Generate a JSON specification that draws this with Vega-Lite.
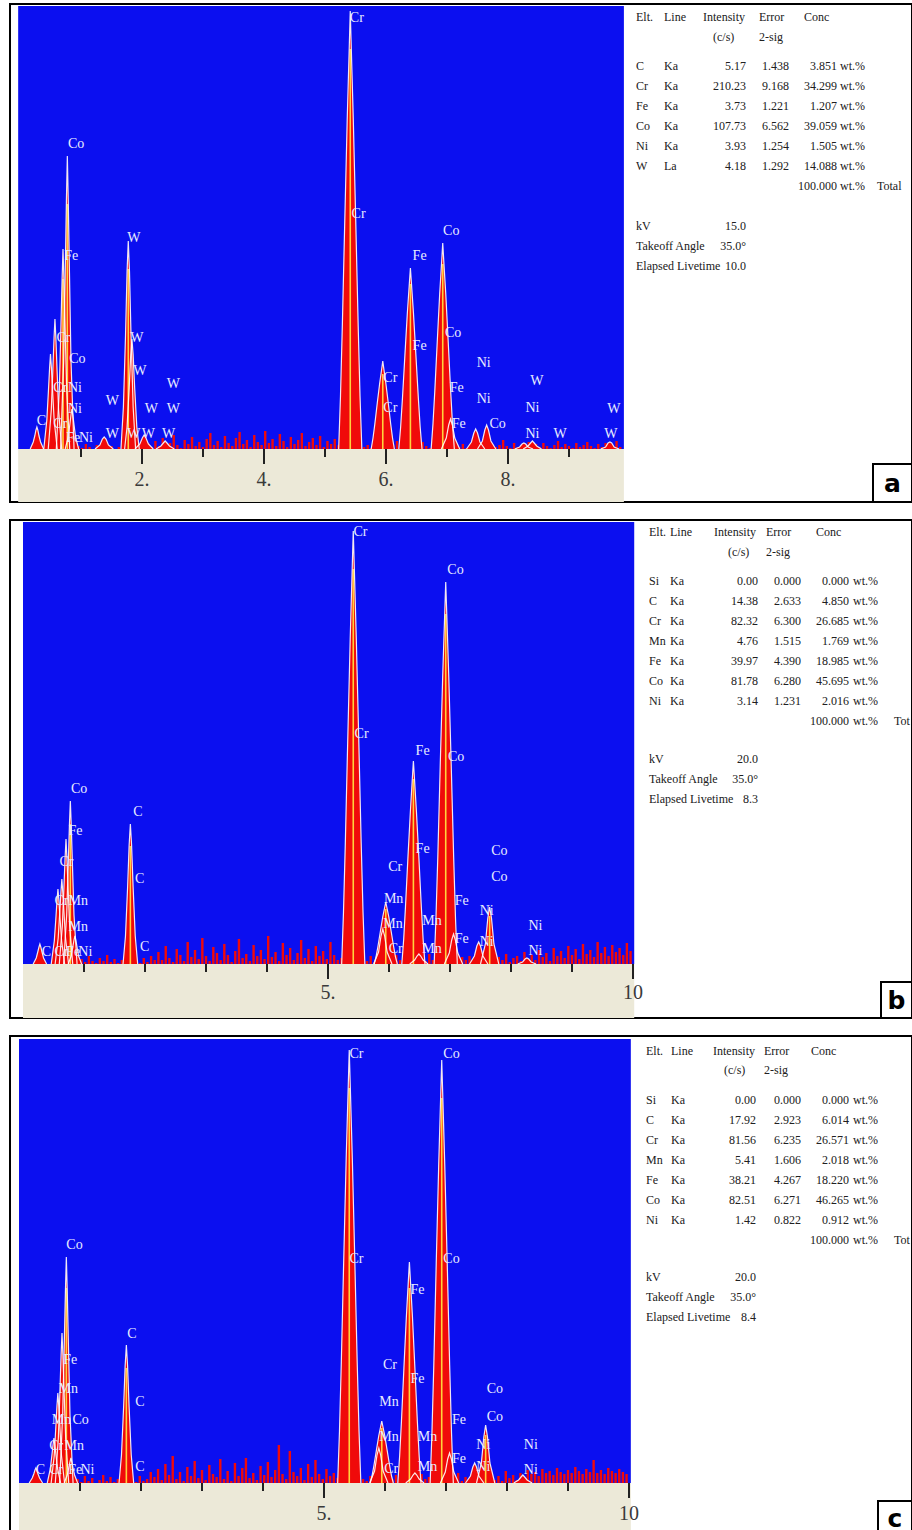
{
"$schema":"https://vega.github.io/schema/vega-lite/v6.json",
"padding":{"left":9,"top":3,"right":0,"bottom":0},
"background":"white",
"spacing":15,
"config":{"view":{"stroke":"black","strokeWidth":2,"fill":"white"}},
"datasets":{
"pa":[
{"k":"C","e":0.167,"c":0},{"k":"C","e":0.217,"c":7},{"k":"C","e":0.242,"c":13},{"k":"C","e":0.262,"c":19},{"k":"C","e":0.277,"c":22},{"k":"C","e":0.292,"c":19},{"k":"C","e":0.312,"c":13},{"k":"C","e":0.337,"c":7},{"k":"C","e":0.387,"c":0},
{"k":"CrL","e":0.39,"c":0},{"k":"CrL","e":0.44,"c":29},{"k":"CrL","e":0.465,"c":57},{"k":"CrL","e":0.485,"c":81},{"k":"CrL","e":0.5,"c":95},{"k":"CrL","e":0.515,"c":81},{"k":"CrL","e":0.535,"c":57},{"k":"CrL","e":0.56,"c":29},{"k":"CrL","e":0.61,"c":0},
{"k":"CrLa","e":0.463,"c":0},{"k":"CrLa","e":0.513,"c":39},{"k":"CrLa","e":0.538,"c":78},{"k":"CrLa","e":0.558,"c":111},{"k":"CrLa","e":0.573,"c":130},{"k":"CrLa","e":0.588,"c":111},{"k":"CrLa","e":0.608,"c":78},{"k":"CrLa","e":0.633,"c":39},{"k":"CrLa","e":0.683,"c":0},
{"k":"FeLa","e":0.595,"c":0},{"k":"FeLa","e":0.645,"c":60},{"k":"FeLa","e":0.67,"c":120},{"k":"FeLa","e":0.69,"c":170},{"k":"FeLa","e":0.705,"c":200},{"k":"FeLa","e":0.72,"c":170},{"k":"FeLa","e":0.74,"c":120},{"k":"FeLa","e":0.765,"c":60},{"k":"FeLa","e":0.815,"c":0},
{"k":"CoLa","e":0.666,"c":0},{"k":"CoLa","e":0.716,"c":88},{"k":"CoLa","e":0.741,"c":176},{"k":"CoLa","e":0.761,"c":249},{"k":"CoLa","e":0.776,"c":293},{"k":"CoLa","e":0.791,"c":249},{"k":"CoLa","e":0.811,"c":176},{"k":"CoLa","e":0.836,"c":88},{"k":"CoLa","e":0.886,"c":0},
{"k":"NiLa","e":0.741,"c":0},{"k":"NiLa","e":0.791,"c":12},{"k":"NiLa","e":0.816,"c":24},{"k":"NiLa","e":0.836,"c":34},{"k":"NiLa","e":0.851,"c":40},{"k":"NiLa","e":0.866,"c":34},{"k":"NiLa","e":0.886,"c":24},{"k":"NiLa","e":0.911,"c":12},{"k":"NiLa","e":0.961,"c":0},
{"k":"WMz","e":1.23,"c":0},{"k":"WMz","e":1.31,"c":4},{"k":"WMz","e":1.35,"c":10},{"k":"WMz","e":1.38,"c":12},{"k":"WMz","e":1.41,"c":10},{"k":"WMz","e":1.45,"c":4},{"k":"WMz","e":1.53,"c":0},
{"k":"WMa","e":1.655,"c":0},{"k":"WMa","e":1.695,"c":42},{"k":"WMa","e":1.73,"c":114},{"k":"WMa","e":1.755,"c":177},{"k":"WMa","e":1.775,"c":208},{"k":"WMa","e":1.795,"c":177},{"k":"WMa","e":1.82,"c":114},{"k":"WMa","e":1.855,"c":42},{"k":"WMa","e":1.895,"c":0},
{"k":"WMb","e":1.715,"c":0},{"k":"WMb","e":1.755,"c":22},{"k":"WMb","e":1.79,"c":61},{"k":"WMb","e":1.815,"c":94},{"k":"WMb","e":1.835,"c":110},{"k":"WMb","e":1.855,"c":94},{"k":"WMb","e":1.88,"c":61},{"k":"WMb","e":1.915,"c":22},{"k":"WMb","e":1.955,"c":0},
{"k":"WMg","e":1.885,"c":0},{"k":"WMg","e":1.965,"c":5},{"k":"WMg","e":2.005,"c":11},{"k":"WMg","e":2.035,"c":14},{"k":"WMg","e":2.065,"c":11},{"k":"WMg","e":2.105,"c":5},{"k":"WMg","e":2.185,"c":0},
{"k":"W2","e":2.23,"c":0},{"k":"W2","e":2.31,"c":3},{"k":"W2","e":2.35,"c":6},{"k":"W2","e":2.38,"c":8},{"k":"W2","e":2.41,"c":6},{"k":"W2","e":2.45,"c":3},{"k":"W2","e":2.53,"c":0},
{"k":"CrKa","e":5.224,"c":0},{"k":"CrKa","e":5.254,"c":53},{"k":"CrKa","e":5.284,"c":123},{"k":"CrKa","e":5.324,"c":228},{"k":"CrKa","e":5.364,"c":329},{"k":"CrKa","e":5.394,"c":394},{"k":"CrKa","e":5.414,"c":438},{"k":"CrKa","e":5.434,"c":394},{"k":"CrKa","e":5.464,"c":329},{"k":"CrKa","e":5.504,"c":228},{"k":"CrKa","e":5.544,"c":123},{"k":"CrKa","e":5.574,"c":53},{"k":"CrKa","e":5.604,"c":0},
{"k":"CrKb","e":5.757,"c":0},{"k":"CrKb","e":5.787,"c":11},{"k":"CrKb","e":5.817,"c":25},{"k":"CrKb","e":5.857,"c":46},{"k":"CrKb","e":5.897,"c":66},{"k":"CrKb","e":5.927,"c":79},{"k":"CrKb","e":5.947,"c":88},{"k":"CrKb","e":5.967,"c":79},{"k":"CrKb","e":5.997,"c":66},{"k":"CrKb","e":6.037,"c":46},{"k":"CrKb","e":6.077,"c":25},{"k":"CrKb","e":6.107,"c":11},{"k":"CrKb","e":6.137,"c":0},
{"k":"FeKa","e":6.21,"c":0},{"k":"FeKa","e":6.24,"c":22},{"k":"FeKa","e":6.27,"c":51},{"k":"FeKa","e":6.31,"c":94},{"k":"FeKa","e":6.35,"c":136},{"k":"FeKa","e":6.38,"c":163},{"k":"FeKa","e":6.4,"c":181},{"k":"FeKa","e":6.42,"c":163},{"k":"FeKa","e":6.45,"c":136},{"k":"FeKa","e":6.49,"c":94},{"k":"FeKa","e":6.53,"c":51},{"k":"FeKa","e":6.56,"c":22},{"k":"FeKa","e":6.59,"c":0},
{"k":"CoKa","e":6.74,"c":0},{"k":"CoKa","e":6.77,"c":25},{"k":"CoKa","e":6.8,"c":58},{"k":"CoKa","e":6.84,"c":107},{"k":"CoKa","e":6.88,"c":155},{"k":"CoKa","e":6.91,"c":185},{"k":"CoKa","e":6.93,"c":206},{"k":"CoKa","e":6.95,"c":185},{"k":"CoKa","e":6.98,"c":155},{"k":"CoKa","e":7.02,"c":107},{"k":"CoKa","e":7.06,"c":58},{"k":"CoKa","e":7.09,"c":25},{"k":"CoKa","e":7.12,"c":0},
{"k":"FeKb","e":6.908,"c":0},{"k":"FeKb","e":6.988,"c":11},{"k":"FeKb","e":7.028,"c":24},{"k":"FeKb","e":7.058,"c":30},{"k":"FeKb","e":7.088,"c":24},{"k":"FeKb","e":7.128,"c":11},{"k":"FeKb","e":7.208,"c":0},
{"k":"NiKa","e":7.32,"c":0},{"k":"NiKa","e":7.4,"c":7},{"k":"NiKa","e":7.44,"c":16},{"k":"NiKa","e":7.47,"c":20},{"k":"NiKa","e":7.5,"c":16},{"k":"NiKa","e":7.54,"c":7},{"k":"NiKa","e":7.62,"c":0},
{"k":"CoKb","e":7.5,"c":0},{"k":"CoKb","e":7.58,"c":8},{"k":"CoKb","e":7.62,"c":19},{"k":"CoKb","e":7.65,"c":24},{"k":"CoKb","e":7.68,"c":19},{"k":"CoKb","e":7.72,"c":8},{"k":"CoKb","e":7.8,"c":0},
{"k":"NiKb","e":8.11,"c":0},{"k":"NiKb","e":8.19,"c":2},{"k":"NiKb","e":8.23,"c":5},{"k":"NiKb","e":8.26,"c":6},{"k":"NiKb","e":8.29,"c":5},{"k":"NiKb","e":8.33,"c":2},{"k":"NiKb","e":8.41,"c":0},
{"k":"WLa","e":8.25,"c":0},{"k":"WLa","e":8.33,"c":3},{"k":"WLa","e":8.37,"c":6},{"k":"WLa","e":8.4,"c":8},{"k":"WLa","e":8.43,"c":6},{"k":"WLa","e":8.47,"c":3},{"k":"WLa","e":8.55,"c":0},
{"k":"WLb","e":9.52,"c":0},{"k":"WLb","e":9.6,"c":2},{"k":"WLb","e":9.64,"c":6},{"k":"WLb","e":9.67,"c":7},{"k":"WLb","e":9.7,"c":6},{"k":"WLb","e":9.74,"c":2},{"k":"WLb","e":9.82,"c":0}
],
"pb":[
{"k":"C","e":0.167,"c":0},{"k":"C","e":0.217,"c":6},{"k":"C","e":0.242,"c":12},{"k":"C","e":0.262,"c":17},{"k":"C","e":0.277,"c":20},{"k":"C","e":0.292,"c":17},{"k":"C","e":0.312,"c":12},{"k":"C","e":0.337,"c":6},{"k":"C","e":0.387,"c":0},
{"k":"CrLa","e":0.463,"c":0},{"k":"CrLa","e":0.513,"c":23},{"k":"CrLa","e":0.538,"c":45},{"k":"CrLa","e":0.558,"c":64},{"k":"CrLa","e":0.573,"c":75},{"k":"CrLa","e":0.588,"c":64},{"k":"CrLa","e":0.608,"c":45},{"k":"CrLa","e":0.633,"c":23},{"k":"CrLa","e":0.683,"c":0},
{"k":"MnLa","e":0.527,"c":0},{"k":"MnLa","e":0.577,"c":26},{"k":"MnLa","e":0.602,"c":51},{"k":"MnLa","e":0.622,"c":72},{"k":"MnLa","e":0.637,"c":85},{"k":"MnLa","e":0.652,"c":72},{"k":"MnLa","e":0.672,"c":51},{"k":"MnLa","e":0.697,"c":26},{"k":"MnLa","e":0.747,"c":0},
{"k":"FeLa","e":0.595,"c":0},{"k":"FeLa","e":0.645,"c":38},{"k":"FeLa","e":0.67,"c":75},{"k":"FeLa","e":0.69,"c":106},{"k":"FeLa","e":0.705,"c":125},{"k":"FeLa","e":0.72,"c":106},{"k":"FeLa","e":0.74,"c":75},{"k":"FeLa","e":0.765,"c":38},{"k":"FeLa","e":0.815,"c":0},
{"k":"CoLa","e":0.666,"c":0},{"k":"CoLa","e":0.716,"c":49},{"k":"CoLa","e":0.741,"c":98},{"k":"CoLa","e":0.761,"c":139},{"k":"CoLa","e":0.776,"c":163},{"k":"CoLa","e":0.791,"c":139},{"k":"CoLa","e":0.811,"c":98},{"k":"CoLa","e":0.836,"c":49},{"k":"CoLa","e":0.886,"c":0},
{"k":"NiLa","e":0.741,"c":0},{"k":"NiLa","e":0.791,"c":8},{"k":"NiLa","e":0.816,"c":17},{"k":"NiLa","e":0.836,"c":24},{"k":"NiLa","e":0.851,"c":28},{"k":"NiLa","e":0.866,"c":24},{"k":"NiLa","e":0.886,"c":17},{"k":"NiLa","e":0.911,"c":8},{"k":"NiLa","e":0.961,"c":0},
{"k":"Si","e":1.64,"c":0},{"k":"Si","e":1.68,"c":28},{"k":"Si","e":1.715,"c":77},{"k":"Si","e":1.74,"c":119},{"k":"Si","e":1.76,"c":140},{"k":"Si","e":1.78,"c":119},{"k":"Si","e":1.805,"c":77},{"k":"Si","e":1.84,"c":28},{"k":"Si","e":1.88,"c":0},
{"k":"CrKa","e":5.224,"c":0},{"k":"CrKa","e":5.254,"c":52},{"k":"CrKa","e":5.284,"c":121},{"k":"CrKa","e":5.324,"c":225},{"k":"CrKa","e":5.364,"c":325},{"k":"CrKa","e":5.394,"c":390},{"k":"CrKa","e":5.414,"c":433},{"k":"CrKa","e":5.434,"c":390},{"k":"CrKa","e":5.464,"c":325},{"k":"CrKa","e":5.504,"c":225},{"k":"CrKa","e":5.544,"c":121},{"k":"CrKa","e":5.574,"c":52},{"k":"CrKa","e":5.604,"c":0},
{"k":"MnKa","e":5.749,"c":0},{"k":"MnKa","e":5.829,"c":12},{"k":"MnKa","e":5.869,"c":28},{"k":"MnKa","e":5.899,"c":35},{"k":"MnKa","e":5.929,"c":28},{"k":"MnKa","e":5.969,"c":12},{"k":"MnKa","e":6.049,"c":0},
{"k":"CrKb","e":5.757,"c":0},{"k":"CrKb","e":5.787,"c":7},{"k":"CrKb","e":5.817,"c":17},{"k":"CrKb","e":5.857,"c":32},{"k":"CrKb","e":5.897,"c":47},{"k":"CrKb","e":5.927,"c":56},{"k":"CrKb","e":5.947,"c":62},{"k":"CrKb","e":5.967,"c":56},{"k":"CrKb","e":5.997,"c":47},{"k":"CrKb","e":6.037,"c":32},{"k":"CrKb","e":6.077,"c":17},{"k":"CrKb","e":6.107,"c":7},{"k":"CrKb","e":6.137,"c":0},
{"k":"FeKa","e":6.21,"c":0},{"k":"FeKa","e":6.24,"c":24},{"k":"FeKa","e":6.27,"c":57},{"k":"FeKa","e":6.31,"c":106},{"k":"FeKa","e":6.35,"c":152},{"k":"FeKa","e":6.38,"c":183},{"k":"FeKa","e":6.4,"c":203},{"k":"FeKa","e":6.42,"c":183},{"k":"FeKa","e":6.45,"c":152},{"k":"FeKa","e":6.49,"c":106},{"k":"FeKa","e":6.53,"c":57},{"k":"FeKa","e":6.56,"c":24},{"k":"FeKa","e":6.59,"c":0},
{"k":"MnKb","e":6.34,"c":0},{"k":"MnKb","e":6.42,"c":4},{"k":"MnKb","e":6.46,"c":8},{"k":"MnKb","e":6.49,"c":10},{"k":"MnKb","e":6.52,"c":8},{"k":"MnKb","e":6.56,"c":4},{"k":"MnKb","e":6.64,"c":0},
{"k":"CoKa","e":6.74,"c":0},{"k":"CoKa","e":6.77,"c":46},{"k":"CoKa","e":6.8,"c":107},{"k":"CoKa","e":6.84,"c":199},{"k":"CoKa","e":6.88,"c":287},{"k":"CoKa","e":6.91,"c":344},{"k":"CoKa","e":6.93,"c":382},{"k":"CoKa","e":6.95,"c":344},{"k":"CoKa","e":6.98,"c":287},{"k":"CoKa","e":7.02,"c":199},{"k":"CoKa","e":7.06,"c":107},{"k":"CoKa","e":7.09,"c":46},{"k":"CoKa","e":7.12,"c":0},
{"k":"FeKb","e":6.908,"c":0},{"k":"FeKb","e":6.988,"c":11},{"k":"FeKb","e":7.028,"c":24},{"k":"FeKb","e":7.058,"c":30},{"k":"FeKb","e":7.088,"c":24},{"k":"FeKb","e":7.128,"c":11},{"k":"FeKb","e":7.208,"c":0},
{"k":"NiKa","e":7.32,"c":0},{"k":"NiKa","e":7.4,"c":8},{"k":"NiKa","e":7.44,"c":18},{"k":"NiKa","e":7.47,"c":22},{"k":"NiKa","e":7.5,"c":18},{"k":"NiKa","e":7.54,"c":8},{"k":"NiKa","e":7.62,"c":0},
{"k":"CoKb","e":7.5,"c":0},{"k":"CoKb","e":7.58,"c":20},{"k":"CoKb","e":7.62,"c":46},{"k":"CoKb","e":7.65,"c":57},{"k":"CoKb","e":7.68,"c":46},{"k":"CoKb","e":7.72,"c":20},{"k":"CoKb","e":7.8,"c":0},
{"k":"NiKb","e":8.11,"c":0},{"k":"NiKb","e":8.19,"c":2},{"k":"NiKb","e":8.23,"c":5},{"k":"NiKb","e":8.26,"c":6},{"k":"NiKb","e":8.29,"c":5},{"k":"NiKb","e":8.33,"c":2},{"k":"NiKb","e":8.41,"c":0}
],
"pc":[
{"k":"C","e":0.167,"c":0},{"k":"C","e":0.217,"c":5},{"k":"C","e":0.242,"c":9},{"k":"C","e":0.262,"c":13},{"k":"C","e":0.277,"c":15},{"k":"C","e":0.292,"c":13},{"k":"C","e":0.312,"c":9},{"k":"C","e":0.337,"c":5},{"k":"C","e":0.387,"c":0},
{"k":"CrLa","e":0.463,"c":0},{"k":"CrLa","e":0.513,"c":14},{"k":"CrLa","e":0.538,"c":27},{"k":"CrLa","e":0.558,"c":38},{"k":"CrLa","e":0.573,"c":45},{"k":"CrLa","e":0.588,"c":38},{"k":"CrLa","e":0.608,"c":27},{"k":"CrLa","e":0.633,"c":14},{"k":"CrLa","e":0.683,"c":0},
{"k":"MnLa","e":0.527,"c":0},{"k":"MnLa","e":0.577,"c":27},{"k":"MnLa","e":0.602,"c":54},{"k":"MnLa","e":0.622,"c":77},{"k":"MnLa","e":0.637,"c":90},{"k":"MnLa","e":0.652,"c":77},{"k":"MnLa","e":0.672,"c":54},{"k":"MnLa","e":0.697,"c":27},{"k":"MnLa","e":0.747,"c":0},
{"k":"FeLa","e":0.595,"c":0},{"k":"FeLa","e":0.645,"c":45},{"k":"FeLa","e":0.67,"c":90},{"k":"FeLa","e":0.69,"c":128},{"k":"FeLa","e":0.705,"c":150},{"k":"FeLa","e":0.72,"c":128},{"k":"FeLa","e":0.74,"c":90},{"k":"FeLa","e":0.765,"c":45},{"k":"FeLa","e":0.815,"c":0},
{"k":"CoLa","e":0.666,"c":0},{"k":"CoLa","e":0.716,"c":68},{"k":"CoLa","e":0.741,"c":136},{"k":"CoLa","e":0.761,"c":192},{"k":"CoLa","e":0.776,"c":226},{"k":"CoLa","e":0.791,"c":192},{"k":"CoLa","e":0.811,"c":136},{"k":"CoLa","e":0.836,"c":68},{"k":"CoLa","e":0.886,"c":0},
{"k":"NiLa","e":0.741,"c":0},{"k":"NiLa","e":0.791,"c":8},{"k":"NiLa","e":0.816,"c":15},{"k":"NiLa","e":0.836,"c":21},{"k":"NiLa","e":0.851,"c":25},{"k":"NiLa","e":0.866,"c":21},{"k":"NiLa","e":0.886,"c":15},{"k":"NiLa","e":0.911,"c":8},{"k":"NiLa","e":0.961,"c":0},
{"k":"Si","e":1.64,"c":0},{"k":"Si","e":1.68,"c":28},{"k":"Si","e":1.715,"c":76},{"k":"Si","e":1.74,"c":117},{"k":"Si","e":1.76,"c":138},{"k":"Si","e":1.78,"c":117},{"k":"Si","e":1.805,"c":76},{"k":"Si","e":1.84,"c":28},{"k":"Si","e":1.88,"c":0},
{"k":"CrKa","e":5.224,"c":0},{"k":"CrKa","e":5.254,"c":52},{"k":"CrKa","e":5.284,"c":121},{"k":"CrKa","e":5.324,"c":225},{"k":"CrKa","e":5.364,"c":325},{"k":"CrKa","e":5.394,"c":390},{"k":"CrKa","e":5.414,"c":433},{"k":"CrKa","e":5.434,"c":390},{"k":"CrKa","e":5.464,"c":325},{"k":"CrKa","e":5.504,"c":225},{"k":"CrKa","e":5.544,"c":121},{"k":"CrKa","e":5.574,"c":52},{"k":"CrKa","e":5.604,"c":0},
{"k":"MnKa","e":5.749,"c":0},{"k":"MnKa","e":5.829,"c":12},{"k":"MnKa","e":5.869,"c":28},{"k":"MnKa","e":5.899,"c":35},{"k":"MnKa","e":5.929,"c":28},{"k":"MnKa","e":5.969,"c":12},{"k":"MnKa","e":6.049,"c":0},
{"k":"CrKb","e":5.757,"c":0},{"k":"CrKb","e":5.787,"c":7},{"k":"CrKb","e":5.817,"c":17},{"k":"CrKb","e":5.857,"c":32},{"k":"CrKb","e":5.897,"c":47},{"k":"CrKb","e":5.927,"c":56},{"k":"CrKb","e":5.947,"c":62},{"k":"CrKb","e":5.967,"c":56},{"k":"CrKb","e":5.997,"c":47},{"k":"CrKb","e":6.037,"c":32},{"k":"CrKb","e":6.077,"c":17},{"k":"CrKb","e":6.107,"c":7},{"k":"CrKb","e":6.137,"c":0},
{"k":"FeKa","e":6.21,"c":0},{"k":"FeKa","e":6.24,"c":27},{"k":"FeKa","e":6.27,"c":62},{"k":"FeKa","e":6.31,"c":115},{"k":"FeKa","e":6.35,"c":166},{"k":"FeKa","e":6.38,"c":199},{"k":"FeKa","e":6.4,"c":221},{"k":"FeKa","e":6.42,"c":199},{"k":"FeKa","e":6.45,"c":166},{"k":"FeKa","e":6.49,"c":115},{"k":"FeKa","e":6.53,"c":62},{"k":"FeKa","e":6.56,"c":27},{"k":"FeKa","e":6.59,"c":0},
{"k":"MnKb","e":6.34,"c":0},{"k":"MnKb","e":6.42,"c":4},{"k":"MnKb","e":6.46,"c":8},{"k":"MnKb","e":6.49,"c":10},{"k":"MnKb","e":6.52,"c":8},{"k":"MnKb","e":6.56,"c":4},{"k":"MnKb","e":6.64,"c":0},
{"k":"CoKa","e":6.74,"c":0},{"k":"CoKa","e":6.77,"c":51},{"k":"CoKa","e":6.8,"c":118},{"k":"CoKa","e":6.84,"c":220},{"k":"CoKa","e":6.88,"c":317},{"k":"CoKa","e":6.91,"c":381},{"k":"CoKa","e":6.93,"c":423},{"k":"CoKa","e":6.95,"c":381},{"k":"CoKa","e":6.98,"c":317},{"k":"CoKa","e":7.02,"c":220},{"k":"CoKa","e":7.06,"c":118},{"k":"CoKa","e":7.09,"c":51},{"k":"CoKa","e":7.12,"c":0},
{"k":"FeKb","e":6.908,"c":0},{"k":"FeKb","e":6.988,"c":11},{"k":"FeKb","e":7.028,"c":24},{"k":"FeKb","e":7.058,"c":30},{"k":"FeKb","e":7.088,"c":24},{"k":"FeKb","e":7.128,"c":11},{"k":"FeKb","e":7.208,"c":0},
{"k":"NiKa","e":7.32,"c":0},{"k":"NiKa","e":7.4,"c":7},{"k":"NiKa","e":7.44,"c":16},{"k":"NiKa","e":7.47,"c":20},{"k":"NiKa","e":7.5,"c":16},{"k":"NiKa","e":7.54,"c":7},{"k":"NiKa","e":7.62,"c":0},
{"k":"CoKb","e":7.5,"c":0},{"k":"CoKb","e":7.58,"c":20},{"k":"CoKb","e":7.62,"c":46},{"k":"CoKb","e":7.65,"c":58},{"k":"CoKb","e":7.68,"c":46},{"k":"CoKb","e":7.72,"c":20},{"k":"CoKb","e":7.8,"c":0},
{"k":"NiKb","e":8.11,"c":0},{"k":"NiKb","e":8.19,"c":3},{"k":"NiKb","e":8.23,"c":6},{"k":"NiKb","e":8.26,"c":8},{"k":"NiKb","e":8.29,"c":6},{"k":"NiKb","e":8.33,"c":3},{"k":"NiKb","e":8.41,"c":0}
],
"na":[
{"e":0.96,"c":3},{"e":1.02,"c":1},{"e":1.08,"c":5},{"e":1.14,"c":2},{"e":1.2,"c":0},{"e":1.26,"c":4},{"e":1.32,"c":2},{"e":1.38,"c":6},{"e":1.44,"c":1},{"e":1.5,"c":3},{"e":1.56,"c":0},{"e":1.62,"c":2},{"e":1.68,"c":5},{"e":1.74,"c":1},{"e":1.8,"c":3},{"e":1.86,"c":2},{"e":1.92,"c":0},{"e":1.98,"c":4},{"e":2.04,"c":1},{"e":2.1,"c":6},{"e":2.16,"c":2},
{"e":2.22,"c":8},{"e":2.28,"c":3},{"e":2.34,"c":11},{"e":2.4,"c":2},{"e":2.46,"c":6},{"e":2.52,"c":14},{"e":2.58,"c":4},{"e":2.64,"c":1},{"e":2.7,"c":9},{"e":2.76,"c":5},{"e":2.82,"c":12},{"e":2.88,"c":3},{"e":2.94,"c":7},{"e":3.0,"c":2},{"e":3.06,"c":10},{"e":3.12,"c":16},{"e":3.18,"c":4},{"e":3.24,"c":8},{"e":3.3,"c":2},{"e":3.36,"c":13},{"e":3.42,"c":6},{"e":3.48,"c":3},{"e":3.54,"c":11},{"e":3.6,"c":17},{"e":3.66,"c":5},{"e":3.72,"c":9},{"e":3.78,"c":2},{"e":3.84,"c":14},{"e":3.9,"c":7},{"e":3.96,"c":4},{"e":4.02,"c":18},{"e":4.08,"c":6},{"e":4.14,"c":10},{"e":4.2,"c":3},{"e":4.26,"c":15},{"e":4.32,"c":8},{"e":4.38,"c":2},{"e":4.44,"c":12},{"e":4.5,"c":5},{"e":4.56,"c":9},{"e":4.62,"c":16},{"e":4.68,"c":3},{"e":4.74,"c":7},{"e":4.8,"c":11},{"e":4.86,"c":4},{"e":4.92,"c":13},{"e":4.98,"c":2},{"e":5.04,"c":8},{"e":5.1,"c":5},{"e":5.16,"c":10},
{"e":5.22,"c":4},{"e":5.28,"c":2},{"e":5.34,"c":6},{"e":5.4,"c":1},{"e":5.46,"c":5},{"e":5.52,"c":3},{"e":5.58,"c":7},{"e":5.64,"c":2},{"e":5.7,"c":4},{"e":5.76,"c":1},{"e":5.82,"c":6},{"e":5.88,"c":3},{"e":5.94,"c":2},{"e":6.0,"c":5},{"e":6.06,"c":1},{"e":6.12,"c":4},{"e":6.18,"c":8},{"e":6.24,"c":2},{"e":6.3,"c":3},{"e":6.36,"c":6},{"e":6.42,"c":1},{"e":6.48,"c":4},{"e":6.54,"c":2},{"e":6.6,"c":7},{"e":6.66,"c":3},{"e":6.72,"c":1},{"e":6.78,"c":5},{"e":6.84,"c":2},{"e":6.9,"c":6},{"e":6.96,"c":4},{"e":7.02,"c":1},{"e":7.08,"c":3},{"e":7.14,"c":8},{"e":7.2,"c":2},{"e":7.26,"c":5},{"e":7.32,"c":1},{"e":7.38,"c":4},{"e":7.44,"c":6},{"e":7.5,"c":2},{"e":7.56,"c":3},{"e":7.62,"c":7},{"e":7.68,"c":1},{"e":7.74,"c":5},{"e":7.8,"c":2},{"e":7.86,"c":4},{"e":7.92,"c":9},{"e":7.98,"c":3},{"e":8.04,"c":1},{"e":8.1,"c":6},{"e":8.16,"c":2},{"e":8.22,"c":4},{"e":8.28,"c":3},{"e":8.34,"c":7},{"e":8.4,"c":1},{"e":8.46,"c":5},{"e":8.52,"c":2},{"e":8.58,"c":6},{"e":8.64,"c":3},{"e":8.7,"c":1},{"e":8.76,"c":4},{"e":8.82,"c":8},{"e":8.88,"c":2},{"e":8.94,"c":5},{"e":9.0,"c":3},{"e":9.06,"c":1},{"e":9.12,"c":6},{"e":9.18,"c":2},{"e":9.24,"c":4},{"e":9.3,"c":7},{"e":9.36,"c":3},{"e":9.42,"c":1},{"e":9.48,"c":5},{"e":9.54,"c":2},{"e":9.6,"c":6},{"e":9.66,"c":4},{"e":9.72,"c":3},{"e":9.78,"c":8},{"e":9.84,"c":2}
],
"nb":[
{"e":0.96,"c":5},{"e":1.02,"c":2},{"e":1.08,"c":8},{"e":1.14,"c":3},{"e":1.2,"c":1},{"e":1.26,"c":6},{"e":1.32,"c":3},{"e":1.38,"c":9},{"e":1.44,"c":2},{"e":1.5,"c":5},{"e":1.56,"c":1},{"e":1.62,"c":4},{"e":1.68,"c":7},{"e":1.74,"c":2},{"e":1.8,"c":10},{"e":1.86,"c":3},{"e":1.92,"c":1},{"e":1.98,"c":6},{"e":2.04,"c":2},{"e":2.1,"c":8},{"e":2.16,"c":4},
{"e":2.22,"c":12},{"e":2.28,"c":4},{"e":2.34,"c":18},{"e":2.4,"c":6},{"e":2.46,"c":2},{"e":2.52,"c":15},{"e":2.58,"c":9},{"e":2.64,"c":3},{"e":2.7,"c":22},{"e":2.76,"c":7},{"e":2.82,"c":14},{"e":2.88,"c":5},{"e":2.94,"c":26},{"e":3.0,"c":8},{"e":3.06,"c":3},{"e":3.12,"c":17},{"e":3.18,"c":11},{"e":3.24,"c":4},{"e":3.3,"c":20},{"e":3.36,"c":9},{"e":3.42,"c":2},{"e":3.48,"c":13},{"e":3.54,"c":25},{"e":3.6,"c":6},{"e":3.66,"c":10},{"e":3.72,"c":3},{"e":3.78,"c":19},{"e":3.84,"c":8},{"e":3.9,"c":14},{"e":3.96,"c":5},{"e":4.02,"c":28},{"e":4.08,"c":7},{"e":4.14,"c":12},{"e":4.2,"c":3},{"e":4.26,"c":21},{"e":4.32,"c":9},{"e":4.38,"c":16},{"e":4.44,"c":4},{"e":4.5,"c":11},{"e":4.56,"c":24},{"e":4.62,"c":6},{"e":4.68,"c":15},{"e":4.74,"c":3},{"e":4.8,"c":18},{"e":4.86,"c":8},{"e":4.92,"c":13},{"e":4.98,"c":5},{"e":5.04,"c":22},{"e":5.1,"c":9},{"e":5.16,"c":4},
{"e":5.22,"c":6},{"e":5.28,"c":3},{"e":5.34,"c":9},{"e":5.4,"c":2},{"e":5.46,"c":7},{"e":5.52,"c":4},{"e":5.58,"c":11},{"e":5.64,"c":3},{"e":5.7,"c":8},{"e":5.76,"c":2},{"e":5.82,"c":5},{"e":5.88,"c":10},{"e":5.94,"c":3},{"e":6.0,"c":6},{"e":6.06,"c":2},{"e":6.12,"c":9},{"e":6.18,"c":4},{"e":6.24,"c":12},{"e":6.3,"c":3},{"e":6.36,"c":7},{"e":6.42,"c":2},{"e":6.48,"c":5},{"e":6.54,"c":8},{"e":6.6,"c":3},{"e":6.66,"c":10},{"e":6.72,"c":4},{"e":6.78,"c":6},{"e":6.84,"c":2},{"e":6.9,"c":9},{"e":6.96,"c":3},{"e":7.02,"c":5},{"e":7.08,"c":11},{"e":7.14,"c":2},{"e":7.2,"c":7},{"e":7.26,"c":4},{"e":7.32,"c":8},{"e":7.38,"c":3},{"e":7.44,"c":6},{"e":7.5,"c":13},{"e":7.56,"c":2},{"e":7.62,"c":5},{"e":7.68,"c":9},{"e":7.74,"c":3},{"e":7.8,"c":7},{"e":7.86,"c":4},{"e":7.92,"c":10},{"e":7.98,"c":2},{"e":8.04,"c":6},{"e":8.1,"c":8},{"e":8.16,"c":3},{"e":8.22,"c":12},{"e":8.28,"c":5},{"e":8.34,"c":9},{"e":8.4,"c":4},{"e":8.46,"c":14},{"e":8.52,"c":7},{"e":8.58,"c":11},{"e":8.64,"c":3},{"e":8.7,"c":16},{"e":8.76,"c":8},{"e":8.82,"c":13},{"e":8.88,"c":6},{"e":8.94,"c":18},{"e":9.0,"c":9},{"e":9.06,"c":15},{"e":9.12,"c":5},{"e":9.18,"c":20},{"e":9.24,"c":10},{"e":9.3,"c":14},{"e":9.36,"c":7},{"e":9.42,"c":22},{"e":9.48,"c":11},{"e":9.54,"c":17},{"e":9.6,"c":8},{"e":9.66,"c":19},{"e":9.72,"c":12},{"e":9.78,"c":16},{"e":9.84,"c":9},{"e":9.9,"c":21},{"e":9.96,"c":13}
],
"nc":[
{"e":0.96,"c":4},{"e":1.02,"c":1},{"e":1.08,"c":7},{"e":1.14,"c":2},{"e":1.2,"c":5},{"e":1.26,"c":0},{"e":1.32,"c":3},{"e":1.38,"c":8},{"e":1.44,"c":2},{"e":1.5,"c":6},{"e":1.56,"c":1},{"e":1.62,"c":4},{"e":1.68,"c":9},{"e":1.74,"c":2},{"e":1.8,"c":5},{"e":1.86,"c":3},{"e":1.92,"c":1},{"e":1.98,"c":7},{"e":2.04,"c":2},{"e":2.1,"c":4},{"e":2.16,"c":11},
{"e":2.22,"c":6},{"e":2.28,"c":14},{"e":2.34,"c":3},{"e":2.4,"c":19},{"e":2.46,"c":8},{"e":2.52,"c":27},{"e":2.58,"c":4},{"e":2.64,"c":11},{"e":2.7,"c":2},{"e":2.76,"c":16},{"e":2.82,"c":7},{"e":2.88,"c":22},{"e":2.94,"c":5},{"e":3.0,"c":13},{"e":3.06,"c":3},{"e":3.12,"c":18},{"e":3.18,"c":9},{"e":3.24,"c":6},{"e":3.3,"c":24},{"e":3.36,"c":4},{"e":3.42,"c":12},{"e":3.48,"c":2},{"e":3.54,"c":20},{"e":3.6,"c":7},{"e":3.66,"c":15},{"e":3.72,"c":25},{"e":3.78,"c":5},{"e":3.84,"c":10},{"e":3.9,"c":3},{"e":3.96,"c":17},{"e":4.02,"c":8},{"e":4.08,"c":21},{"e":4.14,"c":6},{"e":4.2,"c":13},{"e":4.26,"c":38},{"e":4.32,"c":9},{"e":4.38,"c":4},{"e":4.44,"c":32},{"e":4.5,"c":11},{"e":4.56,"c":7},{"e":4.62,"c":15},{"e":4.68,"c":3},{"e":4.74,"c":19},{"e":4.8,"c":6},{"e":4.86,"c":23},{"e":4.92,"c":9},{"e":4.98,"c":4},{"e":5.04,"c":14},{"e":5.1,"c":7},{"e":5.16,"c":10},
{"e":5.22,"c":5},{"e":5.28,"c":2},{"e":5.34,"c":8},{"e":5.4,"c":3},{"e":5.46,"c":6},{"e":5.52,"c":1},{"e":5.58,"c":9},{"e":5.64,"c":4},{"e":5.7,"c":2},{"e":5.76,"c":7},{"e":5.82,"c":3},{"e":5.88,"c":5},{"e":5.94,"c":11},{"e":6.0,"c":2},{"e":6.06,"c":6},{"e":6.12,"c":4},{"e":6.18,"c":8},{"e":6.24,"c":3},{"e":6.3,"c":1},{"e":6.36,"c":7},{"e":6.42,"c":3},{"e":6.48,"c":5},{"e":6.54,"c":2},{"e":6.6,"c":9},{"e":6.66,"c":4},{"e":6.72,"c":6},{"e":6.78,"c":2},{"e":6.84,"c":8},{"e":6.9,"c":3},{"e":6.96,"c":5},{"e":7.02,"c":1},{"e":7.08,"c":7},{"e":7.14,"c":4},{"e":7.2,"c":10},{"e":7.26,"c":2},{"e":7.32,"c":6},{"e":7.38,"c":3},{"e":7.44,"c":8},{"e":7.5,"c":5},{"e":7.56,"c":2},{"e":7.62,"c":9},{"e":7.68,"c":4},{"e":7.74,"c":6},{"e":7.8,"c":3},{"e":7.86,"c":7},{"e":7.92,"c":2},{"e":7.98,"c":12},{"e":8.04,"c":5},{"e":8.1,"c":8},{"e":8.16,"c":3},{"e":8.22,"c":10},{"e":8.28,"c":6},{"e":8.34,"c":13},{"e":8.4,"c":9},{"e":8.46,"c":11},{"e":8.52,"c":7},{"e":8.58,"c":14},{"e":8.64,"c":10},{"e":8.7,"c":12},{"e":8.76,"c":8},{"e":8.82,"c":15},{"e":8.88,"c":11},{"e":8.94,"c":9},{"e":9.0,"c":13},{"e":9.06,"c":10},{"e":9.12,"c":16},{"e":9.18,"c":12},{"e":9.24,"c":9},{"e":9.3,"c":14},{"e":9.36,"c":11},{"e":9.42,"c":23},{"e":9.48,"c":10},{"e":9.54,"c":13},{"e":9.6,"c":9},{"e":9.66,"c":15},{"e":9.72,"c":12},{"e":9.78,"c":10},{"e":9.84,"c":14},{"e":9.9,"c":11},{"e":9.96,"c":9}
],
"ma":[{"e":0.705,"top":170},{"e":0.776,"top":245},{"e":1.775,"top":180},{"e":5.414,"top":400},{"e":5.947,"top":75},{"e":6.4,"top":165},{"e":6.93,"top":185}],
"mb":[{"e":0.776,"top":140},{"e":1.76,"top":118},{"e":5.414,"top":395},{"e":5.947,"top":55},{"e":6.4,"top":185},{"e":6.93,"top":350},{"e":7.65,"top":48}],
"mc":[{"e":0.776,"top":195},{"e":1.76,"top":115},{"e":5.414,"top":395},{"e":5.947,"top":55},{"e":6.4,"top":195},{"e":6.93,"top":385},{"e":7.65,"top":48}],
"ta":[{"e":1},{"e":2,"l":"2."},{"e":3},{"e":4,"l":"4."},{"e":5},{"e":6,"l":"6."},{"e":7},{"e":8,"l":"8."},{"e":9}],
"tb":[{"e":1},{"e":2},{"e":3},{"e":4},{"e":5,"l":"5."},{"e":6},{"e":7},{"e":8},{"e":9},{"e":10,"l":"10"}],
"la":[
{"e":0.77,"c":305,"t":"Co"},{"e":0.71,"c":193,"t":"Fe"},{"e":0.58,"c":111,"t":"Cr"},{"e":0.79,"c":90,"t":"Co"},{"e":0.53,"c":61,"t":"Cr"},{"e":0.77,"c":61,"t":"Ni"},{"e":0.77,"c":40,"t":"Ni"},{"e":0.26,"c":28,"t":"C"},{"e":0.53,"c":25,"t":"Cr"},{"e":0.74,"c":11,"t":"Fe"},{"e":0.95,"c":11,"t":"Ni"},
{"e":1.39,"c":48,"t":"W"},{"e":1.39,"c":15,"t":"W"},{"e":1.74,"c":211,"t":"W"},{"e":1.79,"c":111,"t":"W"},{"e":1.84,"c":78,"t":"W"},{"e":1.74,"c":15,"t":"W"},{"e":2.03,"c":40,"t":"W"},{"e":1.98,"c":15,"t":"W"},{"e":2.39,"c":65,"t":"W"},{"e":2.39,"c":40,"t":"W"},{"e":2.31,"c":15,"t":"W"},
{"e":5.39,"c":431,"t":"Cr"},{"e":5.42,"c":235,"t":"Cr"},{"e":6.92,"c":218,"t":"Co"},{"e":6.42,"c":193,"t":"Fe"},{"e":6.42,"c":103,"t":"Fe"},{"e":6.95,"c":116,"t":"Co"},{"e":5.94,"c":71,"t":"Cr"},{"e":5.94,"c":41,"t":"Cr"},{"e":7.03,"c":61,"t":"Fe"},{"e":7.06,"c":25,"t":"Fe"},{"e":7.47,"c":86,"t":"Ni"},{"e":7.47,"c":50,"t":"Ni"},{"e":7.68,"c":25,"t":"Co"},{"e":8.35,"c":68,"t":"W"},{"e":8.27,"c":41,"t":"Ni"},{"e":8.27,"c":15,"t":"Ni"},{"e":8.73,"c":15,"t":"W"},{"e":9.61,"c":40,"t":"W"},{"e":9.56,"c":15,"t":"W"}
],
"lb":[
{"e":0.77,"c":175,"t":"Co"},{"e":0.73,"c":133,"t":"Fe"},{"e":0.58,"c":102,"t":"Cr"},{"e":0.5,"c":63,"t":"Cr"},{"e":0.73,"c":63,"t":"Mn"},{"e":0.73,"c":37,"t":"Mn"},{"e":0.29,"c":12,"t":"C"},{"e":0.5,"c":12,"t":"Cr"},{"e":0.69,"c":12,"t":"Fe"},{"e":0.89,"c":12,"t":"Ni"},
{"e":1.79,"c":152,"t":"C"},{"e":1.82,"c":85,"t":"C"},{"e":1.9,"c":17,"t":"C"},
{"e":5.4,"c":432,"t":"Cr"},{"e":5.42,"c":230,"t":"Cr"},{"e":6.94,"c":394,"t":"Co"},{"e":6.42,"c":213,"t":"Fe"},{"e":6.95,"c":207,"t":"Co"},{"e":6.42,"c":115,"t":"Fe"},{"e":5.97,"c":97,"t":"Cr"},{"e":5.9,"c":65,"t":"Mn"},{"e":5.89,"c":40,"t":"Mn"},{"e":5.98,"c":15,"t":"Cr"},{"e":6.53,"c":43,"t":"Mn"},{"e":6.53,"c":15,"t":"Mn"},{"e":7.06,"c":63,"t":"Fe"},{"e":7.06,"c":25,"t":"Fe"},{"e":7.66,"c":113,"t":"Co"},{"e":7.66,"c":87,"t":"Co"},{"e":7.47,"c":53,"t":"Ni"},{"e":7.47,"c":22,"t":"Ni"},{"e":8.27,"c":38,"t":"Ni"},{"e":8.27,"c":13,"t":"Ni"}
],
"lc":[
{"e":0.76,"c":238,"t":"Co"},{"e":0.71,"c":123,"t":"Fe"},{"e":0.63,"c":94,"t":"Mn"},{"e":0.52,"c":63,"t":"Mn"},{"e":0.86,"c":63,"t":"Co"},{"e":0.48,"c":37,"t":"Cr"},{"e":0.73,"c":37,"t":"Mn"},{"e":0.26,"c":13,"t":"C"},{"e":0.48,"c":13,"t":"Cr"},{"e":0.79,"c":13,"t":"Fe"},{"e":0.99,"c":13,"t":"Ni"},
{"e":1.76,"c":149,"t":"C"},{"e":1.89,"c":81,"t":"C"},{"e":1.89,"c":16,"t":"C"},
{"e":5.4,"c":429,"t":"Cr"},{"e":6.94,"c":429,"t":"Co"},{"e":5.4,"c":224,"t":"Cr"},{"e":6.94,"c":224,"t":"Co"},{"e":6.4,"c":193,"t":"Fe"},{"e":6.4,"c":104,"t":"Fe"},{"e":5.95,"c":118,"t":"Cr"},{"e":5.89,"c":81,"t":"Mn"},{"e":5.89,"c":46,"t":"Mn"},{"e":5.97,"c":14,"t":"Cr"},{"e":6.52,"c":46,"t":"Mn"},{"e":6.52,"c":16,"t":"Mn"},{"e":7.08,"c":63,"t":"Fe"},{"e":7.08,"c":24,"t":"Fe"},{"e":7.65,"c":94,"t":"Co"},{"e":7.65,"c":66,"t":"Co"},{"e":7.48,"c":38,"t":"Ni"},{"e":7.48,"c":16,"t":"Ni"},{"e":8.26,"c":38,"t":"Ni"},{"e":8.26,"c":13,"t":"Ni"}
],
"tA":[
{"t":"Elt.","c":0,"r":0},{"t":"Line","c":1,"r":0},{"t":"Intensity","c":2,"r":0},{"t":"Error","c":5,"r":0},{"t":"Conc","c":7,"r":0},
{"t":"(c/s)","c":3,"r":1},{"t":"2-sig","c":5,"r":1},
{"t":"C","c":0,"r":2},{"t":"Ka","c":1,"r":2},{"t":"5.17","c":4,"r":2},{"t":"1.438","c":6,"r":2},{"t":"3.851","c":8,"r":2},{"t":"wt.%","c":9,"r":2},
{"t":"Cr","c":0,"r":3},{"t":"Ka","c":1,"r":3},{"t":"210.23","c":4,"r":3},{"t":"9.168","c":6,"r":3},{"t":"34.299","c":8,"r":3},{"t":"wt.%","c":9,"r":3},
{"t":"Fe","c":0,"r":4},{"t":"Ka","c":1,"r":4},{"t":"3.73","c":4,"r":4},{"t":"1.221","c":6,"r":4},{"t":"1.207","c":8,"r":4},{"t":"wt.%","c":9,"r":4},
{"t":"Co","c":0,"r":5},{"t":"Ka","c":1,"r":5},{"t":"107.73","c":4,"r":5},{"t":"6.562","c":6,"r":5},{"t":"39.059","c":8,"r":5},{"t":"wt.%","c":9,"r":5},
{"t":"Ni","c":0,"r":6},{"t":"Ka","c":1,"r":6},{"t":"3.93","c":4,"r":6},{"t":"1.254","c":6,"r":6},{"t":"1.505","c":8,"r":6},{"t":"wt.%","c":9,"r":6},
{"t":"W","c":0,"r":7},{"t":"La","c":1,"r":7},{"t":"4.18","c":4,"r":7},{"t":"1.292","c":6,"r":7},{"t":"14.088","c":8,"r":7},{"t":"wt.%","c":9,"r":7},
{"t":"100.000","c":8,"r":8},{"t":"wt.%","c":9,"r":8},{"t":"Total","c":10,"r":8},
{"t":"kV","c":0,"r":9},{"t":"15.0","c":4,"r":9},
{"t":"Takeoff Angle","c":0,"r":10},{"t":"35.0°","c":4,"r":10},
{"t":"Elapsed Livetime","c":0,"r":11},{"t":"10.0","c":4,"r":11}
],
"tB":[
{"t":"Elt.","c":0,"r":0},{"t":"Line","c":1,"r":0},{"t":"Intensity","c":2,"r":0},{"t":"Error","c":5,"r":0},{"t":"Conc","c":7,"r":0},
{"t":"(c/s)","c":3,"r":1},{"t":"2-sig","c":5,"r":1},
{"t":"Si","c":0,"r":2},{"t":"Ka","c":1,"r":2},{"t":"0.00","c":4,"r":2},{"t":"0.000","c":6,"r":2},{"t":"0.000","c":8,"r":2},{"t":"wt.%","c":9,"r":2},
{"t":"C","c":0,"r":3},{"t":"Ka","c":1,"r":3},{"t":"14.38","c":4,"r":3},{"t":"2.633","c":6,"r":3},{"t":"4.850","c":8,"r":3},{"t":"wt.%","c":9,"r":3},
{"t":"Cr","c":0,"r":4},{"t":"Ka","c":1,"r":4},{"t":"82.32","c":4,"r":4},{"t":"6.300","c":6,"r":4},{"t":"26.685","c":8,"r":4},{"t":"wt.%","c":9,"r":4},
{"t":"Mn","c":0,"r":5},{"t":"Ka","c":1,"r":5},{"t":"4.76","c":4,"r":5},{"t":"1.515","c":6,"r":5},{"t":"1.769","c":8,"r":5},{"t":"wt.%","c":9,"r":5},
{"t":"Fe","c":0,"r":6},{"t":"Ka","c":1,"r":6},{"t":"39.97","c":4,"r":6},{"t":"4.390","c":6,"r":6},{"t":"18.985","c":8,"r":6},{"t":"wt.%","c":9,"r":6},
{"t":"Co","c":0,"r":7},{"t":"Ka","c":1,"r":7},{"t":"81.78","c":4,"r":7},{"t":"6.280","c":6,"r":7},{"t":"45.695","c":8,"r":7},{"t":"wt.%","c":9,"r":7},
{"t":"Ni","c":0,"r":8},{"t":"Ka","c":1,"r":8},{"t":"3.14","c":4,"r":8},{"t":"1.231","c":6,"r":8},{"t":"2.016","c":8,"r":8},{"t":"wt.%","c":9,"r":8},
{"t":"100.000","c":8,"r":9},{"t":"wt.%","c":9,"r":9},{"t":"Total","c":10,"r":9},
{"t":"kV","c":0,"r":10},{"t":"20.0","c":4,"r":10},
{"t":"Takeoff Angle","c":0,"r":11},{"t":"35.0°","c":4,"r":11},
{"t":"Elapsed Livetime","c":0,"r":12},{"t":"8.3","c":4,"r":12}
],
"tC":[
{"t":"Elt.","c":0,"r":0},{"t":"Line","c":1,"r":0},{"t":"Intensity","c":2,"r":0},{"t":"Error","c":5,"r":0},{"t":"Conc","c":7,"r":0},
{"t":"(c/s)","c":3,"r":1},{"t":"2-sig","c":5,"r":1},
{"t":"Si","c":0,"r":2},{"t":"Ka","c":1,"r":2},{"t":"0.00","c":4,"r":2},{"t":"0.000","c":6,"r":2},{"t":"0.000","c":8,"r":2},{"t":"wt.%","c":9,"r":2},
{"t":"C","c":0,"r":3},{"t":"Ka","c":1,"r":3},{"t":"17.92","c":4,"r":3},{"t":"2.923","c":6,"r":3},{"t":"6.014","c":8,"r":3},{"t":"wt.%","c":9,"r":3},
{"t":"Cr","c":0,"r":4},{"t":"Ka","c":1,"r":4},{"t":"81.56","c":4,"r":4},{"t":"6.235","c":6,"r":4},{"t":"26.571","c":8,"r":4},{"t":"wt.%","c":9,"r":4},
{"t":"Mn","c":0,"r":5},{"t":"Ka","c":1,"r":5},{"t":"5.41","c":4,"r":5},{"t":"1.606","c":6,"r":5},{"t":"2.018","c":8,"r":5},{"t":"wt.%","c":9,"r":5},
{"t":"Fe","c":0,"r":6},{"t":"Ka","c":1,"r":6},{"t":"38.21","c":4,"r":6},{"t":"4.267","c":6,"r":6},{"t":"18.220","c":8,"r":6},{"t":"wt.%","c":9,"r":6},
{"t":"Co","c":0,"r":7},{"t":"Ka","c":1,"r":7},{"t":"82.51","c":4,"r":7},{"t":"6.271","c":6,"r":7},{"t":"46.265","c":8,"r":7},{"t":"wt.%","c":9,"r":7},
{"t":"Ni","c":0,"r":8},{"t":"Ka","c":1,"r":8},{"t":"1.42","c":4,"r":8},{"t":"0.822","c":6,"r":8},{"t":"0.912","c":8,"r":8},{"t":"wt.%","c":9,"r":8},
{"t":"100.000","c":8,"r":9},{"t":"wt.%","c":9,"r":9},{"t":"Total","c":10,"r":9},
{"t":"kV","c":0,"r":10},{"t":"20.0","c":4,"r":10},
{"t":"Takeoff Angle","c":0,"r":11},{"t":"35.0°","c":4,"r":11},
{"t":"Elapsed Livetime","c":0,"r":12},{"t":"8.4","c":4,"r":12}
]
},
"vconcat":[
{
"width":902,"height":498,
"resolve":{"scale":{"x":"independent","y":"independent"}},
"layer":[
{"layer":[
{"data":{"values":[{}]},"mark":{"type":"rect","fill":"#0b0ff0"},"encoding":{"x":{"datum":-0.03,"type":"quantitative","scale":{"domain":[0,10],"range":[5,625],"nice":false,"zero":false},"axis":null},"x2":{"datum":9.9},"y":{"datum":0,"type":"quantitative","scale":{"domain":[-53,445],"nice":false,"zero":false},"axis":null},"y2":{"datum":443}}},
{"data":{"values":[{}]},"mark":{"type":"rect","fill":"#ece9d8"},"encoding":{"x":{"datum":-0.03,"type":"quantitative","scale":{"domain":[0,10],"range":[5,625],"nice":false,"zero":false},"axis":null},"x2":{"datum":9.9},"y":{"datum":-53,"type":"quantitative","scale":{"domain":[-53,445],"nice":false,"zero":false},"axis":null},"y2":{"datum":0}}},
{"data":{"name":"na"},"mark":{"type":"bar","color":"#f00a0a","width":2.4},"encoding":{"x":{"field":"e","type":"quantitative","scale":{"domain":[0,10],"range":[5,625],"nice":false,"zero":false},"axis":null},"y":{"field":"c","type":"quantitative","stack":null,"scale":{"domain":[-53,445],"nice":false,"zero":false},"axis":null}}},
{"data":{"name":"pa"},"mark":{"type":"area","color":"#f00a0a"},"encoding":{"x":{"field":"e","type":"quantitative","scale":{"domain":[0,10],"range":[5,625],"nice":false,"zero":false},"axis":null},"y":{"field":"c","type":"quantitative","stack":null,"scale":{"domain":[-53,445],"nice":false,"zero":false},"axis":null},"detail":{"field":"k"}}},
{"data":{"name":"ma"},"mark":{"type":"rule","color":"#ffd23c","strokeWidth":1.6},"encoding":{"x":{"field":"e","type":"quantitative","scale":{"domain":[0,10],"range":[5,625],"nice":false,"zero":false},"axis":null},"y":{"field":"top","type":"quantitative","scale":{"domain":[-53,445],"nice":false,"zero":false},"axis":null},"y2":{"datum":0}}},
{"data":{"name":"pa"},"mark":{"type":"line","color":"#ffffff","strokeWidth":1.2,"opacity":0.9},"encoding":{"x":{"field":"e","type":"quantitative","scale":{"domain":[0,10],"range":[5,625],"nice":false,"zero":false},"axis":null},"y":{"field":"c","type":"quantitative","stack":null,"scale":{"domain":[-53,445],"nice":false,"zero":false},"axis":null},"detail":{"field":"k"}}},
{"data":{"name":"ta"},"mark":{"type":"rule","color":"#222222","strokeWidth":2},"encoding":{"x":{"field":"e","type":"quantitative","scale":{"domain":[0,10],"range":[5,625],"nice":false,"zero":false},"axis":null},"y":{"datum":0,"type":"quantitative","scale":{"domain":[-53,445],"nice":false,"zero":false},"axis":null},"y2":{"datum":-8}}},
{"data":{"name":"ta"},"transform":[{"filter":"datum.l"}],"mark":{"type":"rule","color":"#222222","strokeWidth":2},"encoding":{"x":{"field":"e","type":"quantitative","scale":{"domain":[0,10],"range":[5,625],"nice":false,"zero":false},"axis":null},"y":{"datum":0,"type":"quantitative","scale":{"domain":[-53,445],"nice":false,"zero":false},"axis":null},"y2":{"datum":-15}}},
{"data":{"name":"ta"},"transform":[{"filter":"datum.l"}],"mark":{"type":"text","font":"Liberation Serif","fontSize":20,"color":"#3a3a3a","baseline":"middle"},"encoding":{"x":{"field":"e","type":"quantitative","scale":{"domain":[0,10],"range":[5,625],"nice":false,"zero":false},"axis":null},"y":{"datum":-31,"type":"quantitative","scale":{"domain":[-53,445],"nice":false,"zero":false},"axis":null},"text":{"field":"l"}}},
{"data":{"name":"la"},"mark":{"type":"text","font":"Liberation Serif","fontSize":14,"color":"#e8ecff","align":"left","baseline":"middle","dx":1},"encoding":{"x":{"field":"e","type":"quantitative","scale":{"domain":[0,10],"range":[5,625],"nice":false,"zero":false},"axis":null},"y":{"field":"c","type":"quantitative","scale":{"domain":[-53,445],"nice":false,"zero":false},"axis":null},"text":{"field":"t"}}}
]},
{"layer":[
{"data":{"name":"tA"},"transform":[{"filter":"datum.c!=4 && datum.c!=6 && datum.c!=8 && datum.c!=10"}],"mark":{"type":"text","font":"Liberation Serif","fontSize":12,"color":"#202020","align":"left","baseline":"middle"},"encoding":{"x":{"field":"c","type":"quantitative","scale":{"domain":[0,1,2,3,4,5,6,7,8,9,10,11,12],"range":[626,654,693,703,736,749,779,794,827,830,867,863,902],"nice":false,"zero":false},"axis":null},"y":{"field":"r","type":"quantitative","scale":{"domain":[0,1,2,8,9,11,12,13],"range":[13,33,62,182,222,262,460,498],"nice":false,"zero":false},"axis":null},"text":{"field":"t"}}},
{"data":{"name":"tA"},"transform":[{"filter":"datum.c==4 || datum.c==6 || datum.c==8"}],"mark":{"type":"text","font":"Liberation Serif","fontSize":12,"color":"#202020","align":"right","baseline":"middle"},"encoding":{"x":{"field":"c","type":"quantitative","scale":{"domain":[0,1,2,3,4,5,6,7,8,9,10,11,12],"range":[626,654,693,703,736,749,779,794,827,830,867,863,902],"nice":false,"zero":false},"axis":null},"y":{"field":"r","type":"quantitative","scale":{"domain":[0,1,2,8,9,11,12,13],"range":[13,33,62,182,222,262,460,498],"nice":false,"zero":false},"axis":null},"text":{"field":"t"}}},
{"data":{"name":"tA"},"transform":[{"filter":"datum.c==10"}],"mark":{"type":"text","font":"Liberation Serif","fontSize":12,"color":"#202020","align":"left","baseline":"middle"},"encoding":{"x":{"field":"c","type":"quantitative","scale":{"domain":[0,1,2,3,4,5,6,7,8,9,10,11,12],"range":[626,654,693,703,736,749,779,794,827,830,867,863,902],"nice":false,"zero":false},"axis":null},"y":{"field":"r","type":"quantitative","scale":{"domain":[0,1,2,8,9,11,12,13],"range":[13,33,62,182,222,262,460,498],"nice":false,"zero":false},"axis":null},"text":{"field":"t"}}},
{"data":{"values":[{"p":"a"}]},"mark":{"type":"rect","fill":"white","stroke":"black","strokeWidth":2},"encoding":{"x":{"datum":11,"type":"quantitative","scale":{"domain":[0,1,2,3,4,5,6,7,8,9,10,11,12],"range":[626,654,693,703,736,749,779,794,827,830,867,863,902],"nice":false,"zero":false},"axis":null},"x2":{"datum":12},"y":{"datum":12,"type":"quantitative","scale":{"domain":[0,1,2,8,9,11,12,13],"range":[13,33,62,182,222,262,460,498],"nice":false,"zero":false},"axis":null},"y2":{"datum":13}}},
{"data":{"values":[{"p":"a"}]},"mark":{"type":"text","font":"DejaVu Sans","fontWeight":"bold","fontSize":25,"color":"black","baseline":"middle","dy":1},"encoding":{"x":{"datum":11.5,"type":"quantitative","scale":{"domain":[0,1,2,3,4,5,6,7,8,9,10,11,12],"range":[626,654,693,703,736,749,779,794,827,830,867,863,902],"nice":false,"zero":false},"axis":null},"y":{"datum":12.5,"type":"quantitative","scale":{"domain":[0,1,2,8,9,11,12,13],"range":[13,33,62,182,222,262,460,498],"nice":false,"zero":false},"axis":null},"text":{"field":"p"}}}
]}
]
},
{
"width":902,"height":498,
"resolve":{"scale":{"x":"independent","y":"independent"}},
"layer":[
{"layer":[
{"data":{"values":[{}]},"mark":{"type":"rect","fill":"#0b0ff0"},"encoding":{"x":{"datum":0,"type":"quantitative","scale":{"domain":[0,10],"range":[8,628],"nice":false,"zero":false},"axis":null},"x2":{"datum":10.02},"y":{"datum":0,"type":"quantitative","scale":{"domain":[-54,444],"nice":false,"zero":false},"axis":null},"y2":{"datum":442}}},
{"data":{"values":[{}]},"mark":{"type":"rect","fill":"#ece9d8"},"encoding":{"x":{"datum":0,"type":"quantitative","scale":{"domain":[0,10],"range":[8,628],"nice":false,"zero":false},"axis":null},"x2":{"datum":10.02},"y":{"datum":-54,"type":"quantitative","scale":{"domain":[-54,444],"nice":false,"zero":false},"axis":null},"y2":{"datum":0}}},
{"data":{"name":"nb"},"mark":{"type":"bar","color":"#f00a0a","width":2.4},"encoding":{"x":{"field":"e","type":"quantitative","scale":{"domain":[0,10],"range":[8,628],"nice":false,"zero":false},"axis":null},"y":{"field":"c","type":"quantitative","stack":null,"scale":{"domain":[-54,444],"nice":false,"zero":false},"axis":null}}},
{"data":{"name":"pb"},"mark":{"type":"area","color":"#f00a0a"},"encoding":{"x":{"field":"e","type":"quantitative","scale":{"domain":[0,10],"range":[8,628],"nice":false,"zero":false},"axis":null},"y":{"field":"c","type":"quantitative","stack":null,"scale":{"domain":[-54,444],"nice":false,"zero":false},"axis":null},"detail":{"field":"k"}}},
{"data":{"name":"mb"},"mark":{"type":"rule","color":"#ffd23c","strokeWidth":1.6},"encoding":{"x":{"field":"e","type":"quantitative","scale":{"domain":[0,10],"range":[8,628],"nice":false,"zero":false},"axis":null},"y":{"field":"top","type":"quantitative","scale":{"domain":[-54,444],"nice":false,"zero":false},"axis":null},"y2":{"datum":0}}},
{"data":{"name":"pb"},"mark":{"type":"line","color":"#ffffff","strokeWidth":1.2,"opacity":0.9},"encoding":{"x":{"field":"e","type":"quantitative","scale":{"domain":[0,10],"range":[8,628],"nice":false,"zero":false},"axis":null},"y":{"field":"c","type":"quantitative","stack":null,"scale":{"domain":[-54,444],"nice":false,"zero":false},"axis":null},"detail":{"field":"k"}}},
{"data":{"name":"tb"},"mark":{"type":"rule","color":"#222222","strokeWidth":2},"encoding":{"x":{"field":"e","type":"quantitative","scale":{"domain":[0,10],"range":[8,628],"nice":false,"zero":false},"axis":null},"y":{"datum":0,"type":"quantitative","scale":{"domain":[-54,444],"nice":false,"zero":false},"axis":null},"y2":{"datum":-8}}},
{"data":{"name":"tb"},"transform":[{"filter":"datum.l"}],"mark":{"type":"rule","color":"#222222","strokeWidth":2},"encoding":{"x":{"field":"e","type":"quantitative","scale":{"domain":[0,10],"range":[8,628],"nice":false,"zero":false},"axis":null},"y":{"datum":0,"type":"quantitative","scale":{"domain":[-54,444],"nice":false,"zero":false},"axis":null},"y2":{"datum":-15}}},
{"data":{"name":"tb"},"transform":[{"filter":"datum.l"}],"mark":{"type":"text","font":"Liberation Serif","fontSize":20,"color":"#3a3a3a","baseline":"middle"},"encoding":{"x":{"field":"e","type":"quantitative","scale":{"domain":[0,10],"range":[8,628],"nice":false,"zero":false},"axis":null},"y":{"datum":-29,"type":"quantitative","scale":{"domain":[-54,444],"nice":false,"zero":false},"axis":null},"text":{"field":"l"}}},
{"data":{"name":"lb"},"mark":{"type":"text","font":"Liberation Serif","fontSize":14,"color":"#e8ecff","align":"left","baseline":"middle","dx":1},"encoding":{"x":{"field":"e","type":"quantitative","scale":{"domain":[0,10],"range":[8,628],"nice":false,"zero":false},"axis":null},"y":{"field":"c","type":"quantitative","scale":{"domain":[-54,444],"nice":false,"zero":false},"axis":null},"text":{"field":"t"}}}
]},
{"layer":[
{"data":{"name":"tB"},"transform":[{"filter":"datum.c!=4 && datum.c!=6 && datum.c!=8 && datum.c!=10"}],"mark":{"type":"text","font":"Liberation Serif","fontSize":12,"color":"#202020","align":"left","baseline":"middle"},"encoding":{"x":{"field":"c","type":"quantitative","scale":{"domain":[0,1,2,3,4,5,6,7,8,9,10,11,12],"range":[639,660,704,718,748,756,791,806,839,843,884,871,902],"nice":false,"zero":false},"axis":null},"y":{"field":"r","type":"quantitative","scale":{"domain":[0,1,2,9,10,12,13,14],"range":[12,32,61,201,239,279,462,498],"nice":false,"zero":false},"axis":null},"text":{"field":"t"}}},
{"data":{"name":"tB"},"transform":[{"filter":"datum.c==4 || datum.c==6 || datum.c==8"}],"mark":{"type":"text","font":"Liberation Serif","fontSize":12,"color":"#202020","align":"right","baseline":"middle"},"encoding":{"x":{"field":"c","type":"quantitative","scale":{"domain":[0,1,2,3,4,5,6,7,8,9,10,11,12],"range":[639,660,704,718,748,756,791,806,839,843,884,871,902],"nice":false,"zero":false},"axis":null},"y":{"field":"r","type":"quantitative","scale":{"domain":[0,1,2,9,10,12,13,14],"range":[12,32,61,201,239,279,462,498],"nice":false,"zero":false},"axis":null},"text":{"field":"t"}}},
{"data":{"name":"tB"},"transform":[{"filter":"datum.c==10"}],"mark":{"type":"text","font":"Liberation Serif","fontSize":12,"color":"#202020","align":"left","baseline":"middle","limit":19,"ellipsis":"\u200b"},"encoding":{"x":{"field":"c","type":"quantitative","scale":{"domain":[0,1,2,3,4,5,6,7,8,9,10,11,12],"range":[639,660,704,718,748,756,791,806,839,843,884,871,902],"nice":false,"zero":false},"axis":null},"y":{"field":"r","type":"quantitative","scale":{"domain":[0,1,2,9,10,12,13,14],"range":[12,32,61,201,239,279,462,498],"nice":false,"zero":false},"axis":null},"text":{"field":"t"}}},
{"data":{"values":[{"p":"b"}]},"mark":{"type":"rect","fill":"white","stroke":"black","strokeWidth":2},"encoding":{"x":{"datum":11,"type":"quantitative","scale":{"domain":[0,1,2,3,4,5,6,7,8,9,10,11,12],"range":[639,660,704,718,748,756,791,806,839,843,884,871,902],"nice":false,"zero":false},"axis":null},"x2":{"datum":12},"y":{"datum":13,"type":"quantitative","scale":{"domain":[0,1,2,9,10,12,13,14],"range":[12,32,61,201,239,279,462,498],"nice":false,"zero":false},"axis":null},"y2":{"datum":14}}},
{"data":{"values":[{"p":"b"}]},"mark":{"type":"text","font":"DejaVu Sans","fontWeight":"bold","fontSize":25,"color":"black","baseline":"middle","dy":1},"encoding":{"x":{"datum":11.5,"type":"quantitative","scale":{"domain":[0,1,2,3,4,5,6,7,8,9,10,11,12],"range":[639,660,704,718,748,756,791,806,839,843,884,871,902],"nice":false,"zero":false},"axis":null},"y":{"datum":13.5,"type":"quantitative","scale":{"domain":[0,1,2,9,10,12,13,14],"range":[12,32,61,201,239,279,462,498],"nice":false,"zero":false},"axis":null},"text":{"field":"p"}}}
]}
]
},
{
"width":902,"height":499,
"resolve":{"scale":{"x":"independent","y":"independent"}},
"layer":[
{"layer":[
{"data":{"values":[{}]},"mark":{"type":"rect","fill":"#0b0ff0"},"encoding":{"x":{"datum":0,"type":"quantitative","scale":{"domain":[0,10],"range":[4,624],"nice":false,"zero":false},"axis":null},"x2":{"datum":10.03},"y":{"datum":0,"type":"quantitative","scale":{"domain":[-52,447],"nice":false,"zero":false},"axis":null},"y2":{"datum":444}}},
{"data":{"values":[{}]},"mark":{"type":"rect","fill":"#ece9d8"},"encoding":{"x":{"datum":0,"type":"quantitative","scale":{"domain":[0,10],"range":[4,624],"nice":false,"zero":false},"axis":null},"x2":{"datum":10.03},"y":{"datum":-52,"type":"quantitative","scale":{"domain":[-52,447],"nice":false,"zero":false},"axis":null},"y2":{"datum":0}}},
{"data":{"name":"nc"},"mark":{"type":"bar","color":"#f00a0a","width":2.4},"encoding":{"x":{"field":"e","type":"quantitative","scale":{"domain":[0,10],"range":[4,624],"nice":false,"zero":false},"axis":null},"y":{"field":"c","type":"quantitative","stack":null,"scale":{"domain":[-52,447],"nice":false,"zero":false},"axis":null}}},
{"data":{"name":"pc"},"mark":{"type":"area","color":"#f00a0a"},"encoding":{"x":{"field":"e","type":"quantitative","scale":{"domain":[0,10],"range":[4,624],"nice":false,"zero":false},"axis":null},"y":{"field":"c","type":"quantitative","stack":null,"scale":{"domain":[-52,447],"nice":false,"zero":false},"axis":null},"detail":{"field":"k"}}},
{"data":{"name":"mc"},"mark":{"type":"rule","color":"#ffd23c","strokeWidth":1.6},"encoding":{"x":{"field":"e","type":"quantitative","scale":{"domain":[0,10],"range":[4,624],"nice":false,"zero":false},"axis":null},"y":{"field":"top","type":"quantitative","scale":{"domain":[-52,447],"nice":false,"zero":false},"axis":null},"y2":{"datum":0}}},
{"data":{"name":"pc"},"mark":{"type":"line","color":"#ffffff","strokeWidth":1.2,"opacity":0.9},"encoding":{"x":{"field":"e","type":"quantitative","scale":{"domain":[0,10],"range":[4,624],"nice":false,"zero":false},"axis":null},"y":{"field":"c","type":"quantitative","stack":null,"scale":{"domain":[-52,447],"nice":false,"zero":false},"axis":null},"detail":{"field":"k"}}},
{"data":{"name":"tb"},"mark":{"type":"rule","color":"#222222","strokeWidth":2},"encoding":{"x":{"field":"e","type":"quantitative","scale":{"domain":[0,10],"range":[4,624],"nice":false,"zero":false},"axis":null},"y":{"datum":0,"type":"quantitative","scale":{"domain":[-52,447],"nice":false,"zero":false},"axis":null},"y2":{"datum":-8}}},
{"data":{"name":"tb"},"transform":[{"filter":"datum.l"}],"mark":{"type":"rule","color":"#222222","strokeWidth":2},"encoding":{"x":{"field":"e","type":"quantitative","scale":{"domain":[0,10],"range":[4,624],"nice":false,"zero":false},"axis":null},"y":{"datum":0,"type":"quantitative","scale":{"domain":[-52,447],"nice":false,"zero":false},"axis":null},"y2":{"datum":-15}}},
{"data":{"name":"tb"},"transform":[{"filter":"datum.l"}],"mark":{"type":"text","font":"Liberation Serif","fontSize":20,"color":"#3a3a3a","baseline":"middle"},"encoding":{"x":{"field":"e","type":"quantitative","scale":{"domain":[0,10],"range":[4,624],"nice":false,"zero":false},"axis":null},"y":{"datum":-31,"type":"quantitative","scale":{"domain":[-52,447],"nice":false,"zero":false},"axis":null},"text":{"field":"l"}}},
{"data":{"name":"lc"},"mark":{"type":"text","font":"Liberation Serif","fontSize":14,"color":"#e8ecff","align":"left","baseline":"middle","dx":1},"encoding":{"x":{"field":"e","type":"quantitative","scale":{"domain":[0,10],"range":[4,624],"nice":false,"zero":false},"axis":null},"y":{"field":"c","type":"quantitative","scale":{"domain":[-52,447],"nice":false,"zero":false},"axis":null},"text":{"field":"t"}}}
]},
{"layer":[
{"data":{"name":"tC"},"transform":[{"filter":"datum.c!=4 && datum.c!=6 && datum.c!=8 && datum.c!=10"}],"mark":{"type":"text","font":"Liberation Serif","fontSize":12,"color":"#202020","align":"left","baseline":"middle"},"encoding":{"x":{"field":"c","type":"quantitative","scale":{"domain":[0,1,2,3,4,5,6,7,8,9,10,11,12],"range":[636,661,703,714,746,754,791,801,839,843,884,868,902],"nice":false,"zero":false},"axis":null},"y":{"field":"r","type":"quantitative","scale":{"domain":[0,1,2,9,10,12,13,14],"range":[15,34,64,204,241,281,465,499],"nice":false,"zero":false},"axis":null},"text":{"field":"t"}}},
{"data":{"name":"tC"},"transform":[{"filter":"datum.c==4 || datum.c==6 || datum.c==8"}],"mark":{"type":"text","font":"Liberation Serif","fontSize":12,"color":"#202020","align":"right","baseline":"middle"},"encoding":{"x":{"field":"c","type":"quantitative","scale":{"domain":[0,1,2,3,4,5,6,7,8,9,10,11,12],"range":[636,661,703,714,746,754,791,801,839,843,884,868,902],"nice":false,"zero":false},"axis":null},"y":{"field":"r","type":"quantitative","scale":{"domain":[0,1,2,9,10,12,13,14],"range":[15,34,64,204,241,281,465,499],"nice":false,"zero":false},"axis":null},"text":{"field":"t"}}},
{"data":{"name":"tC"},"transform":[{"filter":"datum.c==10"}],"mark":{"type":"text","font":"Liberation Serif","fontSize":12,"color":"#202020","align":"left","baseline":"middle","limit":19,"ellipsis":"\u200b"},"encoding":{"x":{"field":"c","type":"quantitative","scale":{"domain":[0,1,2,3,4,5,6,7,8,9,10,11,12],"range":[636,661,703,714,746,754,791,801,839,843,884,868,902],"nice":false,"zero":false},"axis":null},"y":{"field":"r","type":"quantitative","scale":{"domain":[0,1,2,9,10,12,13,14],"range":[15,34,64,204,241,281,465,499],"nice":false,"zero":false},"axis":null},"text":{"field":"t"}}},
{"data":{"values":[{"p":"c"}]},"mark":{"type":"rect","fill":"white","stroke":"black","strokeWidth":2},"encoding":{"x":{"datum":11,"type":"quantitative","scale":{"domain":[0,1,2,3,4,5,6,7,8,9,10,11,12],"range":[636,661,703,714,746,754,791,801,839,843,884,868,902],"nice":false,"zero":false},"axis":null},"x2":{"datum":12},"y":{"datum":13,"type":"quantitative","scale":{"domain":[0,1,2,9,10,12,13,14],"range":[15,34,64,204,241,281,465,499],"nice":false,"zero":false},"axis":null},"y2":{"datum":14}}},
{"data":{"values":[{"p":"c"}]},"mark":{"type":"text","font":"DejaVu Sans","fontWeight":"bold","fontSize":25,"color":"black","baseline":"middle","dy":1},"encoding":{"x":{"datum":11.5,"type":"quantitative","scale":{"domain":[0,1,2,3,4,5,6,7,8,9,10,11,12],"range":[636,661,703,714,746,754,791,801,839,843,884,868,902],"nice":false,"zero":false},"axis":null},"y":{"datum":13.5,"type":"quantitative","scale":{"domain":[0,1,2,9,10,12,13,14],"range":[15,34,64,204,241,281,465,499],"nice":false,"zero":false},"axis":null},"text":{"field":"p"}}}
]}
]
}
]
}
